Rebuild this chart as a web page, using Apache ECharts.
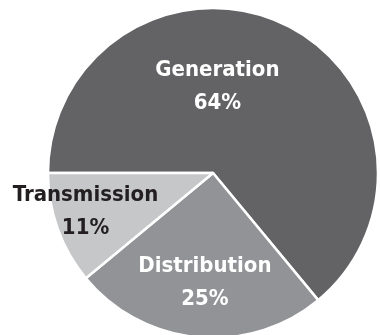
<!DOCTYPE html>
<html>
<head>
<meta charset="utf-8">
<style>
  html, body { margin: 0; padding: 0; background: #fff; }
  #chart { width: 380px; height: 335px; }
</style>
<script src="https://cdn.jsdelivr.net/npm/echarts@6/dist/echarts.min.js"></script>
</head>
<body>
<div id="chart"></div>
<script>
// Share of electricity cost by segment
const segments = ['Generation', 'Distribution', 'Transmission'];
const shares = [64, 25, 11];

const sliceColors = ['#636365', '#929396', '#c6c7c9'];
const labelColors = ['#ffffff', '#ffffff', '#231f20'];
const labelOffsets = [[-32, -9], [0, 25], [-47, 10]];

const chart = echarts.init(document.getElementById('chart'), null, { renderer: 'canvas' });

chart.setOption({
  animation: false,
  backgroundColor: '#ffffff',
  series: [{
    type: 'pie',
    center: [213, 173],
    radius: [0, 165],
    startAngle: 180,
    clockwise: true,
    avoidLabelOverlap: false,
    labelLine: { show: false },
    itemStyle: { borderColor: '#ffffff', borderWidth: 2.5 },
    emphasis: { disabled: true },
    label: {
      show: true,
      position: 'inside',
      formatter: '{b}\n{c}%',
      fontFamily: '"DejaVu Sans Condensed", "DejaVu Sans", sans-serif',
      fontWeight: 'bold',
      fontSize: 22,
      lineHeight: 33,
      align: 'center'
    },
    data: segments.map((name, i) => ({
      name: name,
      value: shares[i],
      itemStyle: { color: sliceColors[i] },
      label: { color: labelColors[i], offset: labelOffsets[i] }
    }))
  }]
});
</script>
</body>
</html>
